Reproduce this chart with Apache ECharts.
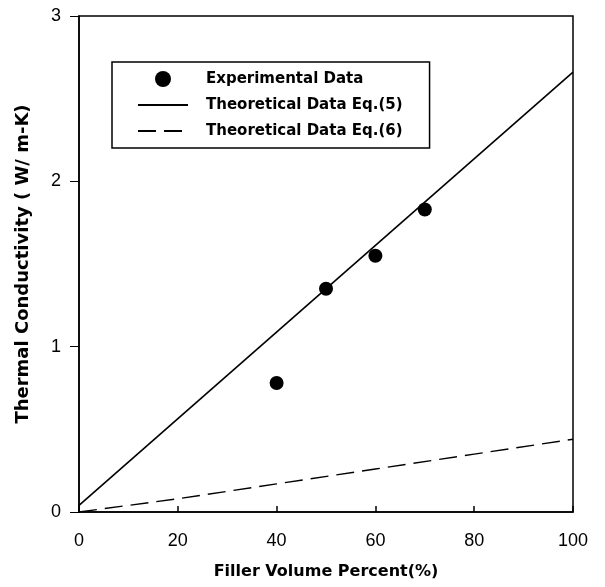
<!DOCTYPE html>
<html>
<head>
<meta charset="utf-8">
<title>Thermal Conductivity</title>
<script src="https://cdn.jsdelivr.net/npm/echarts@6/dist/echarts.min.js"></script>
<style>
html,body{margin:0;padding:0;background:#fff;}
#chartDiv{width:605px;height:587px;}
</style>
</head>
<body>
<div id="chartDiv"></div>
<script>
// data
var expX = [40, 50, 60, 70];
var expY = [0.78, 1.35, 1.55, 1.83];
var eq5X = [0, 100];
var eq5Y = [0.04, 2.66];
var eq6X = [0, 20, 40, 60, 80, 100];
var eq6Y = [0, 0.08, 0.17, 0.26, 0.35, 0.44];
var seriesNames = ['Experimental Data', 'Theoretical Data Eq.(5)', 'Theoretical Data Eq.(6)'];

function pairs(xs, ys) {
	var out = [];
	for (var i = 0; i < xs.length; i++) {
		out.push([xs[i], ys[i]]);
	}
	return out;
}

var app = {};
app.chart = echarts.init(document.getElementById('chartDiv'));

var boldFont = 'DejaVu Sans';
var tickFont = 'Liberation Sans';

app.chart.setOption({
	backgroundColor: '#fff',
	animation: false,
	grid: {
		left: 79, right: 32, top: 16, bottom: 75,
		show: true, borderColor: '#000', borderWidth: 1.5
	},
	legend: {
		orient: 'vertical',
		left: 112, top: 62,
		padding: [9, 27, 9, 25],
		borderColor: '#000', borderWidth: 1.5,
		itemWidth: 50, itemHeight: 16, itemGap: 10,
		textStyle: {
			fontFamily: boldFont, fontWeight: 'bold', fontSize: 15,
			color: '#000', lineHeight: 16, padding: [0, 0, 0, 13]
		},
		data: [
			{name: seriesNames[0]},
			// line entries: hide the marker, keep the stroke
			{name: seriesNames[1], itemStyle: {opacity: 0}},
			{name: seriesNames[2], itemStyle: {opacity: 0}}
		]
	},
	xAxis: {
		type: 'value', min: 0, max: 100, interval: 20,
		name: 'Filler Volume Percent(%)', nameLocation: 'middle', nameGap: 52,
		nameTextStyle: {fontFamily: boldFont, fontWeight: 'bold', fontSize: 16, color: '#000'},
		axisLine: {lineStyle: {color: '#000', width: 1.5}},
		axisTick: {inside: true, length: 6, lineStyle: {color: '#000', width: 1.5}},
		axisLabel: {margin: 20, fontFamily: tickFont, fontSize: 18, color: '#000'},
		splitLine: {show: false}
	},
	yAxis: {
		type: 'value', min: 0, max: 3, interval: 1,
		name: 'Thermal Conductivity ( W/ m-K)', nameLocation: 'middle', nameGap: 47,
		nameTextStyle: {fontFamily: boldFont, fontWeight: 'bold', fontSize: 18, color: '#000'},
		axisLine: {lineStyle: {color: '#000', width: 1.5}},
		axisTick: {length: 9, lineStyle: {color: '#000', width: 1}},
		axisLabel: {margin: 18, fontFamily: tickFont, fontSize: 18, color: '#000'},
		splitLine: {show: false}
	},
	series: [
		{
			name: seriesNames[0], type: 'scatter',
			symbol: 'circle', symbolSize: 14,
			itemStyle: {color: '#000', opacity: 1},
			data: pairs(expX, expY), z: 5
		},
		{
			name: seriesNames[1], type: 'line',
			symbol: 'none',
			lineStyle: {color: '#000', width: 1.6},
			itemStyle: {color: '#000'},
			data: pairs(eq5X, eq5Y)
		},
		{
			name: seriesNames[2], type: 'line',
			symbol: 'none',
			lineStyle: {color: '#000', width: 1.4, type: [18, 8]},
			itemStyle: {color: '#000'},
			data: pairs(eq6X, eq6Y)
		}
	]
});
</script>
</body>
</html>
